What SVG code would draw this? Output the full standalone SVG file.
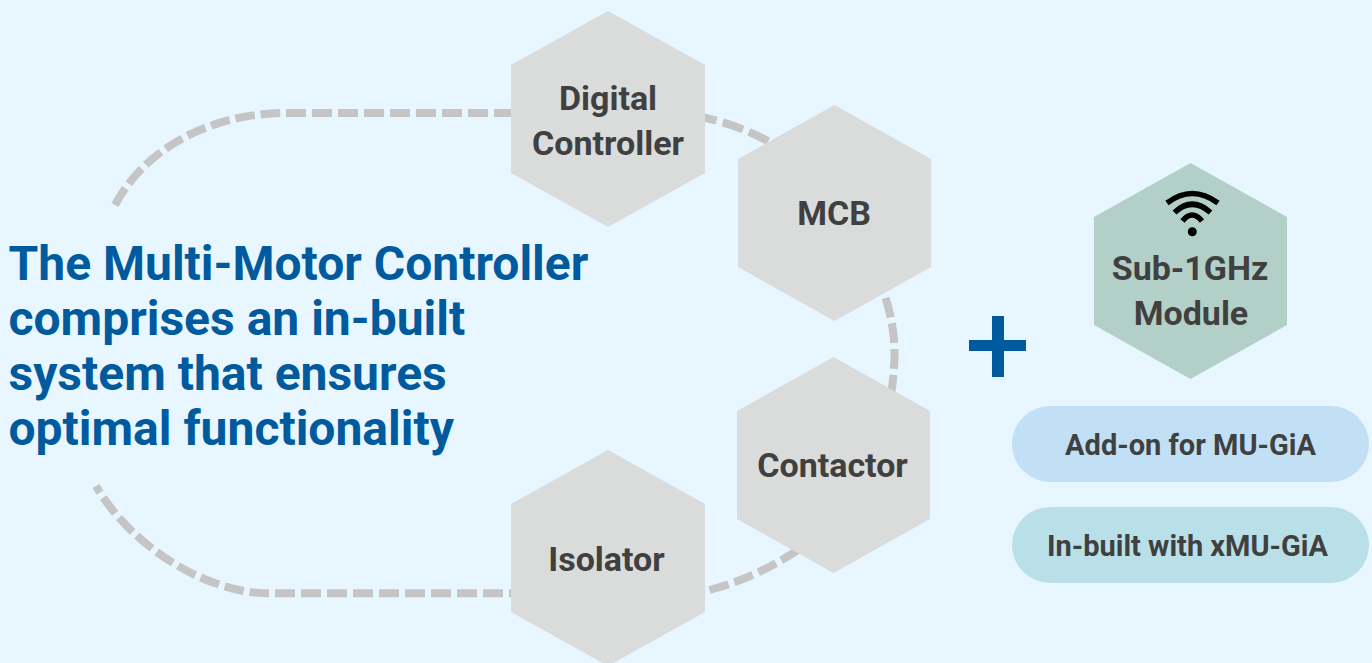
<svg xmlns="http://www.w3.org/2000/svg" width="1372" height="663" viewBox="0 0 1372 663">
<style>
text{font-family:Roboto,"Liberation Sans",sans-serif;font-weight:700}
.hex{fill:#dadbdb}
.lbl{font-size:34px;fill:#404040;text-anchor:middle}
.pill{font-size:29px;fill:#404040;text-anchor:middle}
.title{font-size:48px;fill:#005a9e}
.wifi{fill:none;stroke:#000;stroke-width:5.500}
</style>
<rect width="1372" height="663" fill="#e8f6ff"/>
<g id="connectors" fill="none" stroke="#c4c5c4" stroke-width="8" stroke-dasharray="20 6">
<path pathLength="208" d="M115 205C148 143 218 113 286 113"/>
<path d="M286 113H511"/>
<path pathLength="260" d="M695.600 116A234.500 240 0 0 1 885.500 298"/>
<path d="M885.500 298Q894.500 325 894.500 353Q894.500 372 891 395"/>
<path d="M709.500 590Q760 577 810 542"/>
<path d="M275 593.300H511"/>
<path pathLength="216" d="M269 593.300C205 593.300 130 545 96 486"/>
</g>
<g id="title"><text class="title" x="8.500" y="280">The Multi-Motor Controller</text><text class="title" x="8.500" y="335">comprises an in-built</text><text class="title" x="8.500" y="390">system that ensures</text><text class="title" x="8.500" y="445">optimal functionality</text></g>
<g id="digital-controller"><polygon class="hex" points="608,11 705,65 705,173 608,227 511,173 511,65"/><text class="lbl" x="608" y="110">Digital</text><text class="lbl" x="608" y="155">Controller</text></g>
<g id="mcb"><polygon class="hex" points="834.500,105 931,159 931,267 834.500,321 738,267 738,159"/><text class="lbl" x="834" y="225">MCB</text></g>
<g id="contactor"><polygon class="hex" points="833.500,357 930,411 930,519 833.500,573 737,519 737,411"/><text class="lbl" x="832.500" y="477">Contactor</text></g>
<g id="isolator"><polygon class="hex" points="608,450 705,504 705,612 608,666 511,612 511,504"/><text class="lbl" x="606.500" y="571">Isolator</text></g>
<g id="plus"><path d="M969 340H992V316H1004V340H1026V351H1004V377H992V351H969Z" fill="#005a9e"/></g>
<g id="sub-1ghz-module"><polygon points="1190.500,163 1287,217 1287,325 1190.500,379 1094,325 1094,217" fill="#b2d0c8"/>
<path class="wifi" d="M1167 203Q1192 184 1218 203M1174.500 212.500Q1192 196 1210.500 212.500M1182.500 221Q1192 209 1202 221"/><circle cx="1192.300" cy="231.700" r="4.500"/>
<text class="lbl" x="1190" y="280">Sub-1GHz</text><text class="lbl" x="1191" y="325">Module</text></g>
<g id="add-on"><rect x="1012" y="406" width="357" height="76" rx="38" fill="#c2e0f5"/><text class="pill" x="1190.500" y="455">Add-on for MU-GiA</text></g>
<g id="in-built"><rect x="1012" y="507" width="357" height="76" rx="38" fill="#b9e0e8"/><text class="pill" x="1187.500" y="556">In-built with xMU-GiA</text></g>
</svg>
